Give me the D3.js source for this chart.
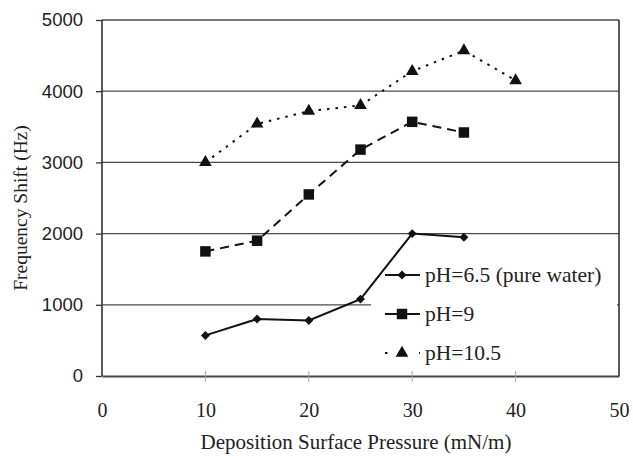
<!DOCTYPE html>
<meta charset="utf-8">
<script src="https://d3js.org/d3.v7.min.js"></script>
<style>
body { margin: 0; background: #fff; }
</style>
<div id="chart"></div>
<script>
// data
var pressure = [10, 15, 20, 25, 30, 35, 40];
var ph65 = [570, 800, 780, 1080, 2000, 1950];
var ph9 = [1750, 1900, 2550, 3180, 3570, 3420];
var ph105 = [3000, 3540, 3720, 3800, 4280, 4570, 4150];
var seriesNames = ["pH=6.5 (pure water)", "pH=9", "pH=10.5"];
var xTicks = [0, 10, 20, 30, 40, 50];
var yTicks = [0, 1000, 2000, 3000, 4000, 5000];

var W = 633, H = 456;
var margin = {top: 20, right: 14, bottom: 80, left: 102};
var width = W - margin.left - margin.right,
    height = H - margin.top - margin.bottom;

var svg = d3.select("#chart").append("svg")
  .attr("width", W).attr("height", H);
var g = svg.append("g")
  .attr("transform", "translate(" + margin.left + "," + margin.top + ")");

var x = d3.scaleLinear().domain([0, 50]).range([0, width]);
var y = d3.scaleLinear().domain([0, 5000]).range([height, 0]);

// grid lines
g.selectAll(".grid").data(yTicks.slice(1))
  .enter().append("line")
  .attr("x1", 0).attr("x2", width)
  .attr("y1", function(d) { return y(d); })
  .attr("y2", function(d) { return y(d); })
  .attr("stroke", "#4a4a4a").attr("stroke-width", 1.3);

// legend background: over the grid, under the series
g.append("rect")
  .attr("x", 269).attr("y", 230)
  .attr("width", 246).attr("height", 124).attr("fill", "#fff");

// frame left / right
g.append("line").attr("x1", 0).attr("x2", 0).attr("y1", 0).attr("y2", height)
  .attr("stroke", "#333").attr("stroke-width", 1.6);
g.append("line").attr("x1", width).attr("x2", width).attr("y1", 0).attr("y2", height)
  .attr("stroke", "#333").attr("stroke-width", 1.6);

// y axis
var yAxis = g.append("g")
  .call(d3.axisLeft(y).tickValues(yTicks).tickFormat(d3.format("d")).tickSize(6).tickPadding(13));
yAxis.select(".domain").remove();
yAxis.selectAll("line").attr("stroke", "#333").attr("stroke-width", 1.3);
yAxis.selectAll("text")
  .style("font-family", "'Liberation Sans', sans-serif")
  .style("font-size", "18.5px").attr("fill", "#222");

// x axis
var xAxis = g.append("g")
  .attr("transform", "translate(0," + height + ")")
  .call(d3.axisBottom(x).tickValues(xTicks).tickSize(0).tickPadding(27));
xAxis.select(".domain").attr("stroke", "#444").attr("stroke-width", 2);
xAxis.selectAll("text")
  .style("font-family", "'Liberation Serif', serif")
  .style("font-size", "20px").attr("fill", "#222");
// small cross ticks on the axis
g.selectAll(".xt").data(xTicks.slice(1, 5))
  .enter().append("line")
  .attr("x1", function(d) { return x(d); }).attr("x2", function(d) { return x(d); })
  .attr("y1", height - 5).attr("y2", height + 6)
  .attr("stroke", "#aaa").attr("stroke-width", 1);

// axis titles
svg.append("text")
  .attr("x", 356).attr("y", 449)
  .attr("text-anchor", "middle")
  .style("font-family", "'Liberation Serif', serif").style("font-size", "21px")
  .attr("fill", "#222")
  .text("Deposition Surface Pressure (mN/m)");
svg.append("text")
  .attr("transform", "translate(27,208) rotate(-90)")
  .attr("text-anchor", "middle")
  .style("font-family", "'Liberation Serif', serif").style("font-size", "19.5px")
  .attr("fill", "#222")
  .text("Frequency Shift (Hz)");

var series = [
  {name: seriesNames[0], values: ph65, dash: null, legendDash: null, shape: d3.symbolSquare, size: 40, rot: 45},
  {name: seriesNames[1], values: ph9, dash: "9,6", legendDash: null, shape: d3.symbolSquare, size: 110, rot: 0},
  {name: seriesNames[2], values: ph105, dash: "2.5,6", legendDash: "2.5,14.5", shape: d3.symbolTriangle, size: 70, rot: 0}
];

var line = d3.line()
  .x(function(d, i) { return x(pressure[i]); })
  .y(function(d) { return y(d); });

series.forEach(function(s) {
  g.append("path").datum(s.values)
    .attr("fill", "none").attr("stroke", "#111")
    .attr("stroke-width", 2)
    .attr("stroke-dasharray", s.dash)
    .attr("d", line);
  g.selectAll(null).data(s.values).enter().append("path")
    .attr("transform", function(d, i) {
      return "translate(" + x(pressure[i]) + "," + y(d) + ") rotate(" + s.rot + ")";
    })
    .attr("d", d3.symbol().type(s.shape).size(s.size))
    .attr("fill", "#111");
});

// legend rows
var legend = svg.append("g").attr("transform", "translate(371,250)");
series.forEach(function(s, i) {
  var row = legend.append("g").attr("transform", "translate(0," + (25 + i * 39) + ")");
  row.append("line").attr("x1", 14).attr("x2", 49)
    .attr("stroke", "#111").attr("stroke-width", 2)
    .attr("stroke-dasharray", s.legendDash);
  row.append("path").attr("transform", "translate(31,0) rotate(" + s.rot + ")")
    .attr("d", d3.symbol().type(s.shape).size(s.size)).attr("fill", "#111");
  row.append("text").attr("x", 54).attr("y", 7)
    .style("font-family", "'Liberation Serif', serif").style("font-size", "21.5px")
    .attr("fill", "#222").text(s.name);
});
</script>
